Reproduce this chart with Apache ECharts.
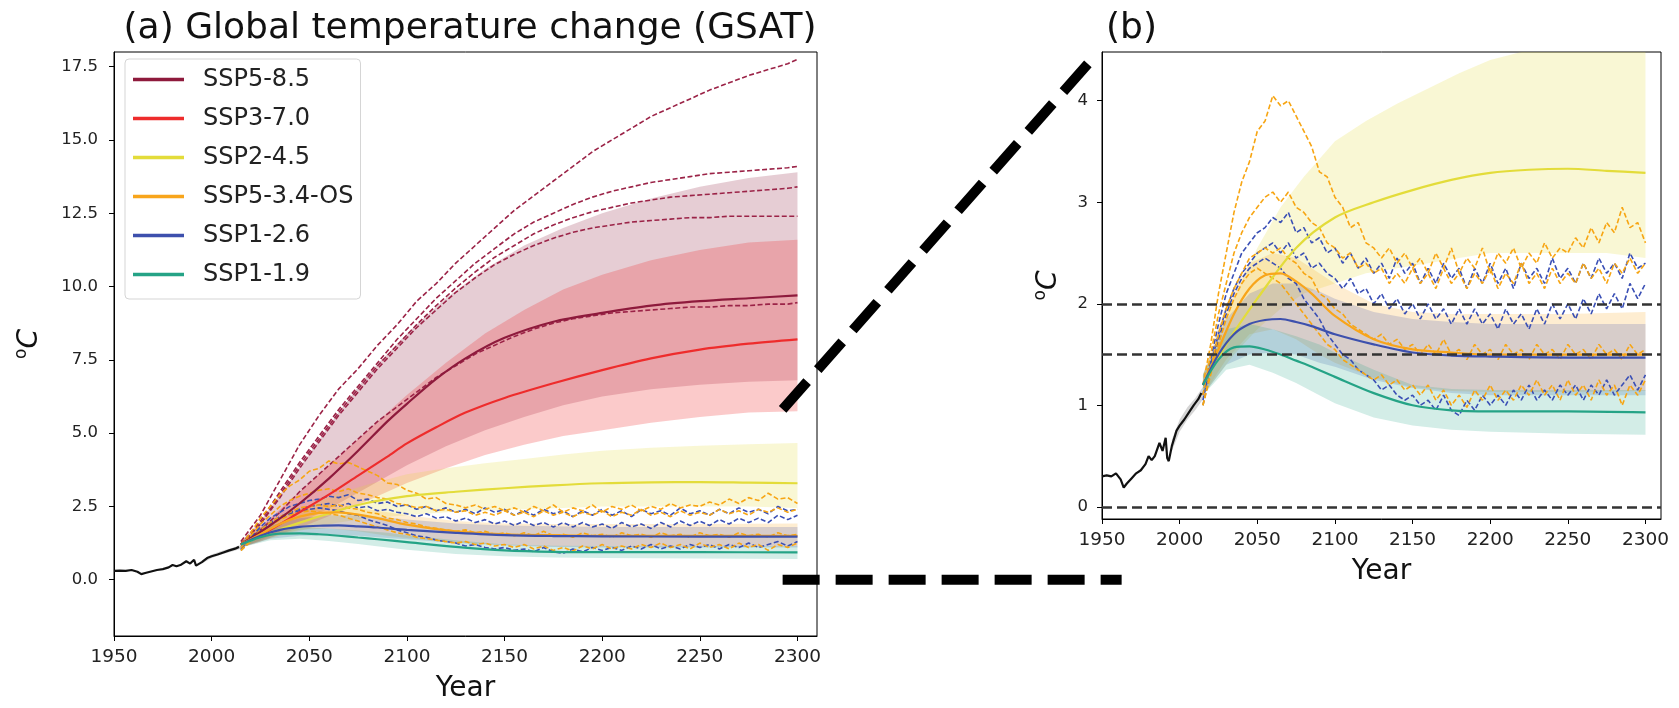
<!DOCTYPE html>
<html>
<head>
<meta charset="utf-8">
<script src="https://cdn.jsdelivr.net/npm/echarts@6/dist/echarts.min.js"></script>
<style>
  html, body { margin: 0; padding: 0; background: #ffffff; }
  #chart { width: 1679px; height: 708px; }
</style>
</head>
<body>
<div id="chart"></div>
<script>
// ---------------- axis ticks ----------------
const xTicks = [1950, 2000, 2050, 2100, 2150, 2200, 2250, 2300];
const yTicksA = [0, 2.5, 5, 7.5, 10, 12.5, 15, 17.5];
const yTicksB = [0, 1, 2, 3, 4];
const thresholds = [0, 1.5, 2];

// ---------------- observed / historical GSAT ----------------
const histYears = [1950, 1953, 1956, 1959, 1962, 1964, 1966, 1969, 1972, 1975, 1978, 1980, 1982, 1984, 1987, 1989, 1991, 1992, 1993, 1995, 1998, 2000, 2003, 2006, 2009, 2012, 2014];
const histTemp  = [0.30, 0.31, 0.30, 0.33, 0.27, 0.19, 0.23, 0.28, 0.33, 0.36, 0.42, 0.50, 0.46, 0.50, 0.63, 0.55, 0.68, 0.48, 0.45, 0.60, 0.75, 0.80, 0.86, 0.93, 1.00, 1.06, 1.12];
const histBandYears = [1995, 2000, 2005, 2010, 2015];
const histBandLo = [0.55, 0.74, 0.86, 0.95, 1.06];
const histBandHi = [0.66, 0.86, 0.98, 1.07, 1.18];

// ---------------- emulator ranges (shaded) ----------------
const bandYears = [2015, 2025, 2035, 2050, 2065, 2080, 2100, 2120, 2140, 2160, 2180, 2200, 2225, 2250, 2275, 2300];
const ssp585Lo = [1.1, 1.35, 1.65, 2.1, 2.6, 3.15, 3.9, 4.55, 5.1, 5.55, 5.95, 6.25, 6.5, 6.65, 6.75, 6.8];
const ssp585Hi = [1.3, 2.0, 2.9, 4.3, 5.7, 7.0, 8.4, 9.6, 10.6, 11.4, 12.0, 12.5, 13.0, 13.4, 13.7, 13.9];
const ssp370Lo = [1.1, 1.3, 1.55, 1.9, 2.3, 2.7, 3.3, 3.8, 4.25, 4.6, 4.9, 5.1, 5.35, 5.55, 5.7, 5.75];
const ssp370Hi = [1.3, 1.8, 2.4, 3.3, 4.2, 5.1, 6.3, 7.4, 8.4, 9.2, 9.9, 10.4, 10.9, 11.25, 11.5, 11.6];
const ssp245Lo = [1.1, 1.3, 1.5, 1.75, 1.95, 2.1, 2.2, 2.3, 2.35, 2.4, 2.45, 2.5, 2.5, 2.5, 2.5, 2.45];
const ssp245Hi = [1.3, 1.7, 2.05, 2.55, 2.95, 3.25, 3.6, 3.8, 3.97, 4.12, 4.27, 4.4, 4.5, 4.57, 4.62, 4.66];

const lowBandYears = [2015, 2030, 2045, 2060, 2075, 2090, 2100, 2125, 2150, 2175, 2200, 2250, 2300];
const ssp534Lo = [1.1, 1.45, 1.7, 1.75, 1.65, 1.5, 1.42, 1.27, 1.18, 1.14, 1.13, 1.13, 1.14];
const ssp534Hi = [1.3, 2.0, 2.4, 2.5, 2.45, 2.3, 2.2, 2.0, 1.92, 1.9, 1.9, 1.9, 1.92];
const ssp126Lo = [1.1, 1.4, 1.5, 1.52, 1.5, 1.42, 1.38, 1.25, 1.17, 1.12, 1.1, 1.1, 1.1];
const ssp126Hi = [1.3, 1.85, 2.1, 2.2, 2.2, 2.12, 2.05, 1.92, 1.85, 1.82, 1.8, 1.8, 1.8];
const ssp119Lo = [1.1, 1.35, 1.4, 1.32, 1.22, 1.1, 1.02, 0.88, 0.8, 0.76, 0.74, 0.72, 0.71];
const ssp119Hi = [1.3, 1.75, 1.8, 1.75, 1.68, 1.6, 1.52, 1.35, 1.2, 1.16, 1.15, 1.15, 1.15];

// ---------------- emulator medians ----------------
const highMedYears = [2015, 2030, 2045, 2060, 2075, 2090, 2100, 2115, 2130, 2150, 2175, 2200, 2225, 2250, 2275, 2300];
const ssp585Med = [1.2, 1.85, 2.6, 3.45, 4.4, 5.4, 6.0, 6.85, 7.55, 8.25, 8.8, 9.1, 9.35, 9.5, 9.6, 9.7];
const ssp370Med = [1.2, 1.7, 2.3, 2.9, 3.55, 4.2, 4.65, 5.2, 5.7, 6.2, 6.7, 7.15, 7.55, 7.85, 8.05, 8.2];
const ssp245Years = [2015, 2030, 2050, 2075, 2100, 2125, 2150, 2175, 2200, 2225, 2250, 2275, 2300];
const ssp245Med = [1.2, 1.6, 2.05, 2.55, 2.85, 3.0, 3.12, 3.22, 3.29, 3.32, 3.33, 3.31, 3.29];
const lowMedYears = [2015, 2025, 2035, 2045, 2055, 2065, 2075, 2085, 2100, 2125, 2150, 2175, 2200, 2250, 2300];
const ssp534Med = [1.2, 1.55, 1.9, 2.15, 2.28, 2.3, 2.22, 2.1, 1.88, 1.65, 1.55, 1.52, 1.5, 1.5, 1.5];
const ssp126Med = [1.2, 1.5, 1.7, 1.8, 1.84, 1.85, 1.82, 1.78, 1.7, 1.6, 1.52, 1.49, 1.48, 1.47, 1.47];
const ssp119Med = [1.2, 1.45, 1.57, 1.58, 1.55, 1.5, 1.44, 1.38, 1.28, 1.12, 1.0, 0.95, 0.94, 0.94, 0.93];

// ---------------- ESM extension runs (dashed) ----------------
const esm585Years = [2015, 2025, 2035, 2045, 2055, 2065, 2075, 2085, 2095, 2105, 2115, 2125, 2135, 2145, 2155, 2165, 2175, 2185, 2195, 2205, 2215, 2225, 2235, 2245, 2255, 2265, 2275, 2285, 2295, 2300];
const esm585A = [1.3, 2.2, 3.4, 4.6, 5.6, 6.5, 7.2, 8.0, 8.7, 9.5, 10.1, 10.8, 11.4, 12.0, 12.6, 13.1, 13.6, 14.1, 14.6, 15.0, 15.4, 15.8, 16.1, 16.4, 16.7, 16.95, 17.2, 17.4, 17.6, 17.75];
const esm585B = [1.2, 2.0, 3.0, 4.0, 4.9, 5.8, 6.6, 7.4, 8.2, 8.9, 9.6, 10.2, 10.8, 11.3, 11.8, 12.2, 12.5, 12.8, 13.05, 13.25, 13.4, 13.55, 13.65, 13.75, 13.85, 13.9, 13.95, 14.0, 14.05, 14.1];
const esm585C = [1.2, 1.9, 2.9, 3.9, 4.8, 5.7, 6.5, 7.3, 8.0, 8.7, 9.35, 9.95, 10.5, 11.0, 11.4, 11.8, 12.1, 12.35, 12.55, 12.7, 12.85, 12.95, 13.05, 13.1, 13.15, 13.2, 13.25, 13.3, 13.35, 13.4];
const esm585D = [1.2, 1.9, 2.8, 3.8, 4.7, 5.6, 6.4, 7.2, 7.9, 8.6, 9.2, 9.8, 10.3, 10.75, 11.1, 11.4, 11.65, 11.85, 12.0, 12.1, 12.2, 12.25, 12.3, 12.35, 12.35, 12.4, 12.4, 12.4, 12.4, 12.4];
const esm585E = [1.2, 1.7, 2.3, 3.0, 3.6, 4.2, 4.8, 5.4, 5.9, 6.4, 6.9, 7.3, 7.7, 8.0, 8.3, 8.55, 8.75, 8.9, 9.0, 9.1, 9.15, 9.2, 9.25, 9.3, 9.3, 9.35, 9.35, 9.4, 9.4, 9.45];

// five-yearly values from 2015 to 2300
const esmStartYear = 2015;
const esmStep = 5;
const esm534A = [1.2, 1.6, 2.1, 2.5, 2.9, 3.2, 3.4, 3.7, 3.8, 4.05, 3.95, 4.0, 3.85, 3.7, 3.55, 3.3, 3.25, 3.05, 2.95, 2.75, 2.8, 2.6, 2.55, 2.45, 2.55, 2.4, 2.5, 2.35, 2.45, 2.3, 2.5, 2.35, 2.55, 2.3, 2.45, 2.35, 2.55, 2.3, 2.5, 2.4, 2.55, 2.35, 2.5, 2.4, 2.6, 2.45, 2.55, 2.5, 2.65, 2.55, 2.75, 2.6, 2.8, 2.7, 2.95, 2.75, 2.8, 2.6];
const esm534B = [1.1, 1.5, 1.9, 2.2, 2.5, 2.7, 2.85, 2.95, 3.05, 3.1, 3.0, 3.1, 2.95, 2.9, 2.8, 2.75, 2.6, 2.55, 2.45, 2.5, 2.35, 2.4, 2.3, 2.35, 2.2, 2.3, 2.2, 2.35, 2.2, 2.3, 2.15, 2.35, 2.2, 2.3, 2.15, 2.3, 2.2, 2.35, 2.15, 2.3, 2.2, 2.4, 2.2, 2.3, 2.15, 2.35, 2.2, 2.3, 2.2, 2.4, 2.25, 2.35, 2.2, 2.4, 2.3, 2.45, 2.3, 2.4];
const esm534C = [1.0, 1.35, 1.7, 1.95, 2.15, 2.3, 2.45, 2.5, 2.55, 2.5, 2.55, 2.45, 2.4, 2.3, 2.25, 2.1, 2.05, 1.95, 1.9, 1.8, 1.75, 1.7, 1.65, 1.7, 1.6, 1.65, 1.55, 1.6, 1.5, 1.6, 1.5, 1.65, 1.5, 1.55, 1.45, 1.6, 1.5, 1.55, 1.45, 1.6, 1.5, 1.55, 1.45, 1.6, 1.5, 1.55, 1.45, 1.6, 1.5, 1.55, 1.45, 1.6, 1.5, 1.55, 1.45, 1.6, 1.5, 1.55];
const esm534D = [1.0, 1.3, 1.6, 1.85, 2.05, 2.2, 2.3, 2.35, 2.3, 2.25, 2.2, 2.1, 2.0, 1.9, 1.8, 1.7, 1.6, 1.55, 1.45, 1.4, 1.35, 1.3, 1.25, 1.3, 1.2, 1.25, 1.15, 1.2, 1.1, 1.2, 1.05, 1.15, 1.0, 1.1, 0.98, 1.15, 1.05, 1.2, 1.05, 1.15, 1.05, 1.2, 1.1, 1.25, 1.1, 1.2, 1.05, 1.25, 1.1, 1.2, 1.05, 1.25, 1.1, 1.2, 1.0, 1.2, 1.1, 1.25];
const esm126A = [1.1, 1.45, 1.8, 2.1, 2.3, 2.5, 2.6, 2.7, 2.75, 2.85, 2.8, 2.9, 2.7, 2.75, 2.6, 2.65, 2.5, 2.55, 2.4, 2.5, 2.35, 2.45, 2.3, 2.4, 2.25, 2.45, 2.3, 2.4, 2.2, 2.35, 2.2, 2.4, 2.25, 2.35, 2.15, 2.35, 2.2, 2.4, 2.2, 2.35, 2.15, 2.4, 2.25, 2.35, 2.2, 2.45, 2.25, 2.35, 2.2, 2.4, 2.25, 2.45, 2.3, 2.4, 2.25, 2.5, 2.35, 2.4];
const esm126B = [1.0, 1.35, 1.65, 1.9, 2.1, 2.25, 2.35, 2.4, 2.45, 2.4, 2.35, 2.25, 2.2, 2.05, 1.95, 1.85, 1.7, 1.6, 1.5, 1.45, 1.35, 1.3, 1.25, 1.15, 1.2, 1.1, 1.05, 1.1, 1.0, 1.05, 0.95, 1.1, 0.95, 0.9, 1.05, 0.95, 1.1, 1.0, 1.1, 1.0, 1.15, 1.05, 1.2, 1.05, 1.15, 1.05, 1.2, 1.1, 1.2, 1.05, 1.2, 1.1, 1.25, 1.1, 1.2, 1.3, 1.15, 1.3];
const esm126C = [1.05, 1.4, 1.7, 1.95, 2.15, 2.3, 2.4, 2.5, 2.55, 2.6, 2.5, 2.6, 2.45, 2.5, 2.35, 2.4, 2.3, 2.25, 2.15, 2.25, 2.1, 2.15, 2.0, 2.1, 1.95, 2.05, 1.9, 2.0, 1.85, 2.0, 1.85, 1.95, 1.8, 1.95, 1.8, 1.95, 1.8, 1.9, 1.75, 1.95, 1.8, 1.9, 1.75, 1.95, 1.8, 2.0, 1.85, 2.0, 1.85, 2.05, 1.9, 2.1, 1.95, 2.1, 1.95, 2.2, 2.05, 2.2];

// ---------------- zoom connector (in panel (a) data units) ----------------
const connectorDiag = [[2292.4, 5.81], [2454.1, 18.0]];
const connectorFlat = [[2292.4, 0.0], [2466.0, 0.0]];

// ---------------- styling ----------------
const FONT = 'DejaVu Sans';
const C585 = '#8e1a3c', C370 = '#ee2c2c', C245 = '#e3dc3a', C534 = '#f8a51b', C126 = '#3d50ad', C119 = '#25a386';

function pairs(xs, ys) { return xs.map((x, i) => [x, ys[i]]); }
function esmPairs(vals) { return vals.map((v, i) => [esmStartYear + esmStep * i, v]); }

// shaded range as one polygon, built through the axis scales
function bandSeries(id, years, lo, hi, color, opacity, g) {
  const pts = years.map((y, i) => [y, lo[i], hi[i]]);
  return {
    type: 'custom', name: id + ' range', xAxisIndex: g, yAxisIndex: g, silent: true, z: 1, clip: true,
    data: pts, encode: { x: 0, y: [1, 2] },
    renderItem: function (params, api) {
      if (params.dataIndex !== 0) return;
      const upper = pts.map(p => api.coord([p[0], p[2]]));
      const lower = pts.map(p => api.coord([p[0], p[1]])).reverse();
      const cs = params.coordSys;
      return {
        type: 'polygon', shape: { points: upper.concat(lower) },
        style: { fill: color, opacity: opacity },
        clipPath: { type: 'rect', shape: { x: cs.x, y: cs.y, width: cs.width, height: cs.height } }
      };
    }
  };
}

function medianSeries(name, years, vals, color, g) {
  return { type: 'line', name: name, xAxisIndex: g, yAxisIndex: g, smooth: 0.3, data: pairs(years, vals),
    showSymbol: false, silent: true, z: 4, color: color, lineStyle: { color: color, width: 2.2 } };
}

function esmSeries(name, data, color, g) {
  return { type: 'line', name: name, xAxisIndex: g, yAxisIndex: g, data: data,
    showSymbol: false, silent: true, z: 3, color: color,
    lineStyle: { color: color, width: 1.6, type: [5, 2.5] } };
}

function panelSeries(g) {
  const full = g === 0;
  let s = [];
  if (full) {
    s.push(bandSeries('ssp585', bandYears, ssp585Lo, ssp585Hi, C585, 0.22, g));
    s.push(bandSeries('ssp370', bandYears, ssp370Lo, ssp370Hi, C370, 0.25, g));
  }
  s.push(bandSeries('ssp245', bandYears, ssp245Lo, ssp245Hi, C245, 0.22, g));
  s.push(bandSeries('ssp534', lowBandYears, ssp534Lo, ssp534Hi, C534, 0.2, g));
  s.push(bandSeries('ssp126', lowBandYears, ssp126Lo, ssp126Hi, C126, 0.2, g));
  s.push(bandSeries('ssp119', lowBandYears, ssp119Lo, ssp119Hi, C119, 0.2, g));
  s.push(bandSeries('hist', histBandYears, histBandLo, histBandHi, '#888888', 0.35, g));

  if (full) {
    [esm585A, esm585B, esm585C, esm585D, esm585E].forEach((v, i) =>
      s.push(esmSeries('ssp585 esm ' + i, pairs(esm585Years, v), '#9b2347', g)));
  }
  [esm126A, esm126B, esm126C].forEach((v, i) =>
    s.push(esmSeries('ssp126 esm ' + i, esmPairs(v), '#3a4fb5', g)));
  [esm534A, esm534B, esm534C, esm534D].forEach((v, i) =>
    s.push(esmSeries('ssp534 esm ' + i, esmPairs(v), '#f7a512', g)));

  if (full) {
    s.push(medianSeries('SSP5-8.5', highMedYears, ssp585Med, C585, g));
    s.push(medianSeries('SSP3-7.0', highMedYears, ssp370Med, C370, g));
  }
  s.push(medianSeries('SSP2-4.5', ssp245Years, ssp245Med, C245, g));
  s.push(medianSeries('SSP5-3.4-OS', lowMedYears, ssp534Med, C534, g));
  s.push(medianSeries('SSP1-2.6', lowMedYears, ssp126Med, C126, g));
  s.push(medianSeries('SSP1-1.9', lowMedYears, ssp119Med, C119, g));

  const hist = { type: 'line', name: 'observed', xAxisIndex: g, yAxisIndex: g, data: pairs(histYears, histTemp),
    showSymbol: false, silent: true, z: 5, color: '#111', lineStyle: { color: '#111', width: 2.2 } };
  if (!full) {
    hist.markLine = {
      silent: true, symbol: 'none', z: 6, label: { show: false },
      lineStyle: { color: '#333', width: 2.6, type: [10, 5] },
      data: thresholds.map(t => ({ yAxis: t }))
    };
  }
  s.push(hist);
  return s;
}

const series = panelSeries(0).concat(panelSeries(1));

const tickStyle = { show: true, inside: false, length: 5, lineStyle: { color: '#000', width: 1 } };
const lineStyle = { show: true, onZero: false, lineStyle: { color: '#000', width: 1 } };
const yName = '{o|o}{c|C}';
const yNameStyle = {
  fontFamily: FONT, color: '#111',
  rich: {
    o: { fontSize: 17, fontFamily: FONT, color: '#111', verticalAlign: 'top', lineHeight: 34 },
    c: { fontSize: 28, fontFamily: FONT, fontStyle: 'italic', color: '#111', lineHeight: 34 }
  }
};
function xAxisCfg(g) {
  return {
    type: 'value', gridIndex: g, min: 1950, max: 2310,
    name: 'Year', nameLocation: 'middle', nameGap: 39,
    nameTextStyle: { fontFamily: FONT, fontSize: 28, color: '#111' },
    axisLine: lineStyle, axisTick: Object.assign({ customValues: xTicks }, tickStyle),
    axisLabel: { customValues: xTicks, formatter: v => String(v), fontFamily: FONT, fontSize: 18.5, color: '#222', margin: 12 },
    splitLine: { show: false }
  };
}

const option = {
  backgroundColor: '#ffffff',
  animation: false,
  textStyle: { fontFamily: FONT },
  title: [
    { text: '(a) Global temperature change (GSAT)', left: 465, top: 6, textAlign: 'center',
      textStyle: { fontFamily: FONT, fontSize: 36, fontWeight: 'normal', color: '#111' } },
    { text: '(b)', left: 1101, top: 6,
      textStyle: { fontFamily: FONT, fontSize: 36, fontWeight: 'normal', color: '#111' } }
  ],
  legend: {
    data: ['SSP5-8.5', 'SSP3-7.0', 'SSP2-4.5', 'SSP5-3.4-OS', 'SSP1-2.6', 'SSP1-1.9'],
    orient: 'vertical', left: 125, top: 59, icon: 'rect', itemWidth: 51, itemHeight: 3.5, itemGap: 10,
    padding: [6, 7, 10, 8], backgroundColor: 'rgba(255,255,255,0.85)', borderColor: '#d5d5d5',
    borderWidth: 1, borderRadius: 4, selectedMode: false,
    formatter: '{t|{name}}',
    textStyle: { fontFamily: FONT, fontSize: 24, color: '#222', lineHeight: 29,
      rich: { t: { fontFamily: FONT, fontSize: 24, color: '#222', padding: [0, 0, 0, 14], lineHeight: 29 } } }
  },
  grid: [
    { left: 114, top: 52, width: 703, height: 585, show: true, borderColor: '#000', borderWidth: 1, backgroundColor: 'transparent' },
    { left: 1102, top: 52, width: 559, height: 467, show: true, borderColor: '#000', borderWidth: 1, backgroundColor: 'transparent' }
  ],
  xAxis: [xAxisCfg(0), xAxisCfg(1)],
  yAxis: [
    { type: 'value', gridIndex: 0, min: -1.92, max: 18.0,
      name: yName, nameLocation: 'middle', nameGap: 67, nameRotate: 90, nameTextStyle: yNameStyle,
      axisLine: lineStyle, axisTick: Object.assign({ customValues: yTicksA }, tickStyle),
      axisLabel: { customValues: yTicksA, formatter: v => v.toFixed(1), fontFamily: FONT, fontSize: 16.5, color: '#222', margin: 16 },
      splitLine: { show: false } },
    { type: 'value', gridIndex: 1, min: -0.12, max: 4.48,
      name: yName, nameLocation: 'middle', nameGap: 36, nameRotate: 90, nameTextStyle: yNameStyle,
      axisLine: lineStyle, axisTick: Object.assign({ customValues: yTicksB }, tickStyle),
      axisLabel: { customValues: yTicksB, formatter: v => String(v), fontFamily: FONT, fontSize: 16.5, color: '#222', margin: 14 },
      splitLine: { show: false } }
  ],
  series: series
};

const chart = echarts.init(document.getElementById('chart'), null, { renderer: 'canvas' });
chart.setOption(option);

// thick dashed connectors from panel (a) towards panel (b)
const connectorStyle = { stroke: '#000', lineWidth: 10, lineDash: [37, 16], lineCap: 'butt' };
const connectors = [connectorDiag, connectorFlat].map(seg => {
  const a = chart.convertToPixel({ gridIndex: 0 }, seg[0]);
  const b = chart.convertToPixel({ gridIndex: 0 }, seg[1]);
  return { type: 'line', silent: true, z: 100,
    shape: { x1: a[0], y1: a[1], x2: b[0], y2: b[1] }, style: connectorStyle };
});
chart.setOption({ graphic: connectors });
</script>
</body>
</html>
